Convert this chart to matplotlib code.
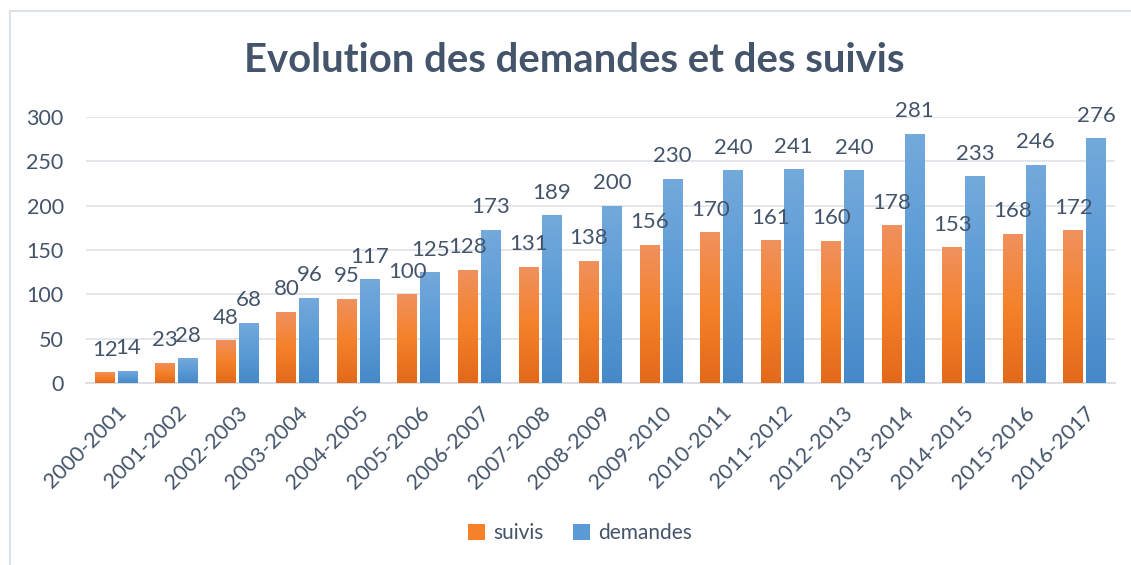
import matplotlib.pyplot as plt
import numpy as np
from matplotlib.colors import LinearSegmentedColormap
from matplotlib.patches import Patch

plt.rcParams['font.family'] = ['Lato', 'DejaVu Sans']

# data
categories = ['2000-2001', '2001-2002', '2002-2003', '2003-2004', '2004-2005',
              '2005-2006', '2006-2007', '2007-2008', '2008-2009', '2009-2010',
              '2010-2011', '2011-2012', '2012-2013', '2013-2014', '2014-2015',
              '2015-2016', '2016-2017']
suivis = [12, 23, 48, 80, 95, 100, 128, 131, 138, 156, 170, 161, 160, 178, 153, 168, 172]
demandes = [14, 28, 68, 96, 117, 125, 173, 189, 200, 230, 240, 241, 240, 281, 233, 246, 276]

text_col = '#44546A'
orange_cmap = LinearSegmentedColormap.from_list('o', ['#E2691A', '#F5812A', '#F0915E'])
blue_cmap = LinearSegmentedColormap.from_list('b', ['#4689C8', '#5B9BD5', '#74A9DC'])

fig = plt.figure(figsize=(11.31, 5.65), dpi=100)
ax = fig.add_axes([0.076, 0.322, 0.91, 0.471])

x = np.arange(len(categories))
w = 0.33
gap = 0.025
b1 = ax.bar(x - w / 2 - gap, suivis, w, color='#F5812A', zorder=2)
b2 = ax.bar(x + w / 2 + gap, demandes, w, color='#5B9BD5', zorder=2)

# vertical gradient inside every bar
grad = np.linspace(0, 1, 256).reshape(-1, 1)
for bars, cmap in ((b1, orange_cmap), (b2, blue_cmap)):
    for r in bars:
        x0, y0 = r.get_x(), r.get_y()
        im = ax.imshow(grad, cmap=cmap, origin='lower', aspect='auto',
                       extent=(x0, x0 + r.get_width(), y0, y0 + r.get_height()),
                       zorder=3)
        im.set_clip_path(r)

for bars, vals in ((b1, suivis), (b2, demandes)):
    for r, v in zip(bars, vals):
        ax.annotate(str(v), (r.get_x() + r.get_width() / 2, v),
                    xytext=(0, 12), textcoords='offset points',
                    ha='center', va='baseline', fontsize=16, color=text_col)

ax.set_xlim(-0.5, len(categories) - 0.5)
ax.set_ylim(0, 300)
ax.set_yticks(range(0, 301, 50))
ax.grid(axis='y', color='#E1E5EA', lw=1.3, zorder=0)
ax.set_axisbelow(True)
for s in ['top', 'right', 'left']:
    ax.spines[s].set_visible(False)
ax.spines['bottom'].set_color('#D9DDE3')
ax.spines['bottom'].set_linewidth(1.3)
ax.tick_params(axis='both', length=0, labelsize=15.5, labelcolor=text_col)
ax.tick_params(axis='y', pad=16)
ax.tick_params(axis='x', pad=14)
ax.set_xticks(x)
ax.set_xticklabels(categories, rotation=45, ha='right', rotation_mode='anchor')

fig.text(0.508, 0.893, 'Evolution des demandes et des suivis', ha='center', va='center',
         fontsize=28.8, fontweight='bold', color=text_col)

handles = [Patch(facecolor='#F5812A', label='suivis'),
           Patch(facecolor='#5B9BD5', label='demandes')]
fig.legend(handles=handles, loc='center', bbox_to_anchor=(0.513, 0.057), ncol=2,
           frameon=False, fontsize=15, labelcolor=text_col, handlelength=0.8,
           handleheight=0.8, columnspacing=1.4, handletextpad=0.4)

# chart frame (top and left edges visible in the crop)
fig.add_artist(plt.Line2D([0.0088, 0.0088], [0, 0.981], color='#DDE2E8', lw=1.5))
fig.add_artist(plt.Line2D([0.0088, 1], [0.981, 0.981], color='#DDE2E8', lw=1.5))

fig.savefig('out.png', dpi=100)
